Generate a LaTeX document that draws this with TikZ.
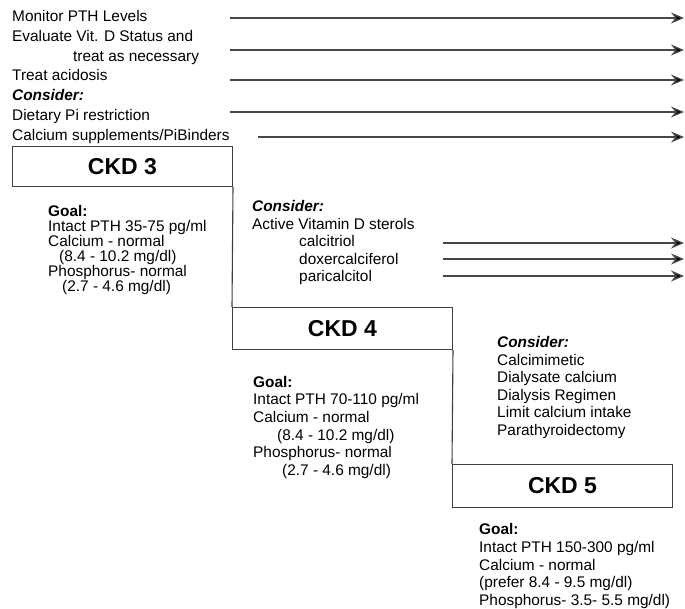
\documentclass[tikz,border=0pt]{standalone}
\usepackage{fontspec}
\setmainfont{Liberation Sans}
\usetikzlibrary{arrows.meta}
\begin{document}
\begin{tikzpicture}[x=1pt,y=-1pt,
  txt/.style={anchor=mid west,inner sep=0pt,yshift=-1.5pt,font=\fontsize{15.4}{17}\selectfont},
  hd/.style={txt,font=\fontsize{15.4}{17}\selectfont\bfseries},
  hdi/.style={txt,font=\fontsize{15.4}{17}\selectfont\bfseries\itshape},
  ckd/.style={draw=black!75,line width=1pt,minimum width=220pt,inner sep=0pt,font=\fontsize{23}{25}\selectfont\bfseries},
  arr/.style={draw=black!72,line width=1.3pt,-{Stealth[length=13pt,width=11pt,inset=4.5pt,fill=black]}},
  link/.style={draw=black!75,line width=1.1pt}]
\useasboundingbox (0,0) rectangle (685,608);
% top text
\node[txt] (t1) at (12,17) {Monitor PTH Levels};
\node[txt] (t2) at (12,37) {Evaluate Vit. D Status and};
\node[txt] (t3) at (73,57) {treat as necessary};
\node[txt] (t4) at (12,76) {Treat acidosis};
\node[hdi] (t5) at (12,96) {Consider:};
\node[txt] (t6) at (12,116) {Dietary Pi restriction};
\node[txt] (t7) at (12,136) {Calcium supplements/PiBinders};
% top arrows
\coordinate (a1s) at (230,18); \coordinate (a1e) at (684,18);
\coordinate (a2s) at (230,50); \coordinate (a2e) at (684,50);
\coordinate (a3s) at (230,80); \coordinate (a3e) at (684,80);
\coordinate (a4s) at (230,112); \coordinate (a4e) at (684,112);
\coordinate (a5s) at (258,137); \coordinate (a5e) at (684,137);
\draw[arr] (a1s) -- (a1e);
\draw[arr] (a2s) -- (a2e);
\draw[arr] (a3s) -- (a3e);
\draw[arr] (a4s) -- (a4e);
\draw[arr] (a5s) -- (a5e);
% boxes
\node[ckd,minimum height=40pt,anchor=north west] (ckd3) at (12,146) {CKD 3};
\node[ckd,minimum height=42pt,anchor=north west] (ckd4) at (232,307) {CKD 4};
\node[ckd,minimum height=43pt,anchor=north west] (ckd5) at (452,464) {CKD 5};
\draw[link] (ckd3.south east) -- (ckd4.north west);
\draw[link] (ckd4.south east) -- (ckd5.north west);
% CKD3 goal
\node[hd] (g3a) at (48,212) {Goal:};
\node[txt] (g3b) at (48,227) {Intact PTH 35-75 pg/ml};
\node[txt] (g3c) at (48,242) {Calcium - normal};
\node[txt] (g3d) at (59,257) {(8.4 - 10.2 mg/dl)};
\node[txt] (g3e) at (48,272) {Phosphorus- normal};
\node[txt] (g3f) at (62,287) {(2.7 - 4.6 mg/dl)};
% middle consider
\node[hdi] (c4a) at (252,207) {Consider:};
\node[txt] (c4b) at (252,225) {Active Vitamin D sterols};
\node[txt] (c4c) at (299,242) {calcitriol};
\node[txt] (c4d) at (299,260) {doxercalciferol};
\node[txt] (c4e) at (299,277) {paricalcitol};
\coordinate (b1s) at (443,243); \coordinate (b1e) at (684,243);
\coordinate (b2s) at (443,259); \coordinate (b2e) at (684,259);
\coordinate (b3s) at (443,276); \coordinate (b3e) at (684,276);
\draw[arr] (b1s) -- (b1e);
\draw[arr] (b2s) -- (b2e);
\draw[arr] (b3s) -- (b3e);
% CKD4 goal
\node[hd] (g4a) at (253,383) {Goal:};
\node[txt] (g4b) at (253,400) {Intact PTH 70-110 pg/ml};
\node[txt] (g4c) at (253,418) {Calcium - normal};
\node[txt] (g4d) at (277,436) {(8.4 - 10.2 mg/dl)};
\node[txt] (g4e) at (253,453) {Phosphorus- normal};
\node[txt] (g4f) at (282,471) {(2.7 - 4.6 mg/dl)};
% CKD5 consider
\node[hdi] (c5a) at (497,343) {Consider:};
\node[txt] (c5b) at (497,361) {Calcimimetic};
\node[txt] (c5c) at (497,378) {Dialysate calcium};
\node[txt] (c5d) at (497,396) {Dialysis Regimen};
\node[txt] (c5e) at (497,413) {Limit calcium intake};
\node[txt] (c5f) at (497,431) {Parathyroidectomy};
% CKD5 goal
\node[hd] (g5a) at (479,530) {Goal:};
\node[txt] (g5b) at (479,548) {Intact PTH 150-300 pg/ml};
\node[txt] (g5c) at (479,566) {Calcium - normal};
\node[txt] (g5d) at (479,583) {(prefer 8.4 - 9.5 mg/dl)};
\node[txt] (g5e) at (479,601) {Phosphorus- 3.5- 5.5 mg/dl)};
\end{tikzpicture}
\end{document}
